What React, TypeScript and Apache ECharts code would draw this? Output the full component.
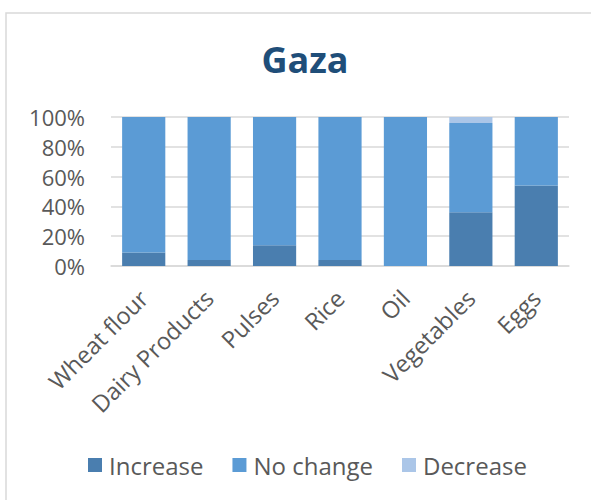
import React, { useEffect, useRef } from "react";
import * as echarts from "echarts";

const categories = ["Wheat flour", "Dairy Products", "Pulses", "Rice", "Oil", "Vegetables", "Eggs"];
const increase = [9, 4, 14, 4, 0, 36, 54];
const noChange = [91, 96, 86, 96, 100, 60, 46];
const decrease = [0, 0, 0, 0, 0, 4, 0];
const yTicks = { min: 0, max: 100, interval: 20 };

const FONT = "'Open Sans', 'Noto Sans', sans-serif";
const TEXT = "#595959";

export default function App() {
  const ref = useRef<HTMLDivElement>(null);
  useEffect(() => {
    document.body.style.margin = "0";
    if (!ref.current) return;
    const chart = echarts.init(ref.current, undefined, { renderer: "svg" });
    const mk = (name: string, data: number[], color: string) => ({
      name,
      type: "bar",
      stack: "total",
      data,
      barCategoryGap: "34%",
      itemStyle: { color },
      emphasis: { disabled: true },
    });
    chart.setOption({
      animation: false,
      backgroundColor: "#ffffff",
      textStyle: { fontFamily: FONT },
      title: {
        text: "Gaza",
        left: 300,
        top: 36,
        textAlign: "center",
        textStyle: { fontFamily: FONT, fontWeight: "bold", fontSize: 36, color: "#1F4E79" },
      },
      graphic: [
        {
          type: "rect",
          shape: { x: 6, y: 13, width: 620, height: 520 },
          style: { fill: "none", stroke: "#d9d9d9", lineWidth: 1.5 },
          silent: true,
        },
      ],
      legend: {
        left: 83,
        top: 448,
        itemWidth: 14,
        itemHeight: 14,
        itemGap: 29,
        icon: "rect",
        textStyle: { fontFamily: FONT, fontSize: 24, color: TEXT, padding: [0, 0, 0, 2] },
        data: ["Increase", "No change", "Decrease"],
      },
      grid: { left: 111, right: 22, top: 117, height: 149, containLabel: false },
      xAxis: {
        type: "category",
        data: categories,
        axisLine: { show: true, lineStyle: { color: "#d9d9d9", width: 1.5 } },
        axisTick: { show: false },
        axisLabel: {
          interval: 0,
          rotate: 45,
          margin: 28,
          fontFamily: FONT,
          fontSize: 23.5,
          color: TEXT,
        },
      },
      yAxis: {
        type: "value",
        min: yTicks.min,
        max: yTicks.max,
        interval: yTicks.interval,
        axisLine: { show: false },
        axisTick: { show: false },
        splitLine: { lineStyle: { color: "#d9d9d9", width: 1.5 } },
        axisLabel: {
          formatter: "{value}%",
          margin: 26,
          fontFamily: FONT,
          fontSize: 22,
          color: TEXT,
        },
      },
      series: [
        mk("Increase", increase, "#4A7EAF"),
        mk("No change", noChange, "#5B9BD5"),
        mk("Decrease", decrease, "#ABC6E8"),
      ],
    });
    return () => chart.dispose();
  }, []);
  return <div ref={ref} style={{ width: 591, height: 500 }} />;
}
